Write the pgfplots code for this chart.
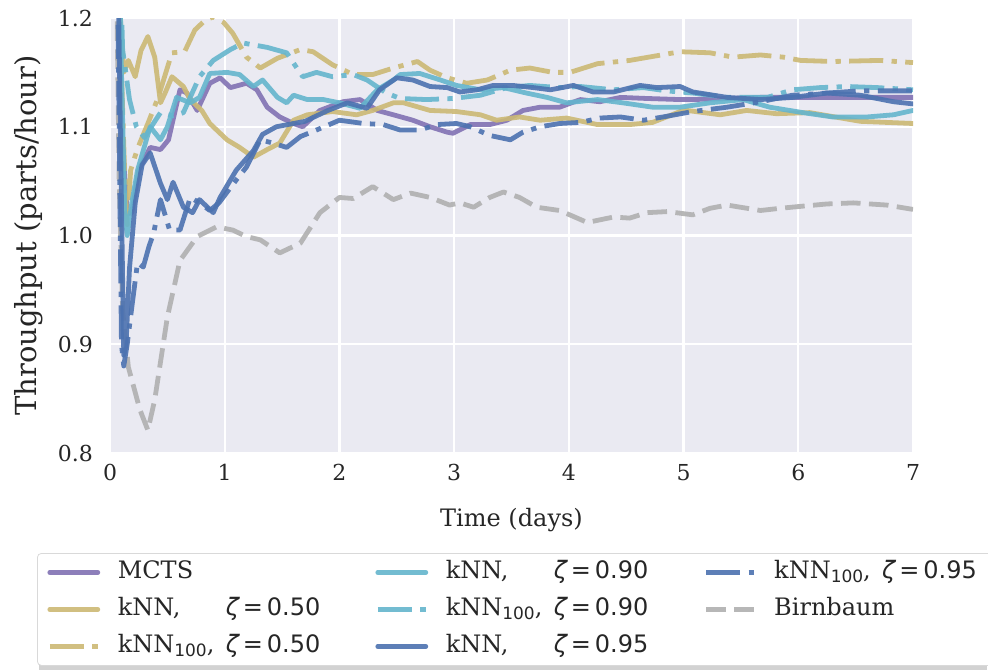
\documentclass[border=0pt]{standalone}
\usepackage{fontspec}
\setmainfont{DejaVu Serif}
\newfontfamily\dvsans{DejaVu Sans}
\usepackage{pgfplots}
\pgfplotsset{compat=1.18}

\definecolor{bgc}{HTML}{EAEAF2}
\definecolor{cpur}{HTML}{8172B3}
\definecolor{cgold}{HTML}{CCB974}
\definecolor{ccyan}{HTML}{64B5CD}
\definecolor{cblue}{HTML}{4C72B0}
\definecolor{cgray}{HTML}{B0B0B0}

\newcommand{\zt}{{\dvsans\itshape ζ}}
\newcommand{\lab}[3]{\makebox[#1][l]{\makebox[54pt][l]{#2}{\dvsans #3}}}
\newcommand{\sub}[1]{\raisebox{-0.35ex}{\dvsans\fontsize{8.5}{9}\selectfont #1}}

\pgfplotsset{
  solidl/.style={line width=2.4pt, line cap=round, line join=round, opacity=0.9},
  dashdotl/.style={line width=2.4pt, line cap=butt, line join=round, opacity=0.9,
    dash pattern=on 17pt off 4.2pt on 2.65pt off 4.2pt},
  dashedl/.style={line width=2.4pt, line cap=butt, line join=round, opacity=0.9,
    dash pattern=on 9.8pt off 4.2pt},
}

\begin{document}
\begin{tikzpicture}
\useasboundingbox (0,0) rectangle (494pt,335.5pt);
% legend shadow
\fill[gray!35] (19.5pt,0.3pt) rectangle (493.3pt,58pt);
\begin{axis}[
    at={(55pt,109pt)}, anchor=south west,
    scale only axis,
    width=401.5pt, height=217.5pt,
    xmin=0, xmax=7, ymin=0.8, ymax=1.2,
    xtick={0,1,...,7},
    ytick={0.8,0.9,1.0,1.1,1.2},
    yticklabel style={/pgf/number format/fixed, /pgf/number format/fixed zerofill,
      /pgf/number format/precision=1},
    /pgf/number format/assume math mode=true,
    ticklabel style={font=\fontsize{11}{13}\selectfont, text=black!85},
    xticklabel style={yshift=-2pt},
    yticklabel style={xshift=-5pt},
    xlabel={Time (days)},
    ylabel={Throughput (parts/hour)},
    xlabel style={font=\fontsize{12}{14}\selectfont, text=black!85,
      at={(0.5,0)}, anchor=north, yshift=-24pt},
    ylabel style={font=\fontsize{14.5}{16}\selectfont, text=black!85,
      at={(0,0.5)}, anchor=south, yshift=30pt},
    axis background/.style={fill=bgc},
    axis line style={draw=none},
    tick style={draw=none},
    grid=major,
    major grid style={white, line width=1.2pt},
    legend columns=3,
    legend cell align=left,
    legend image code/.code={%
      \path[draw=none, fill=none] (0pt,-5pt) rectangle (34pt,5pt);
      \draw[#1] (0pt,0pt) -- (24pt,0pt);},
    legend style={
      at={(-0.0909,-0.2299)}, anchor=north west,
      font=\fontsize{12}{14}\selectfont,
      text=black!85,
      draw=gray!30, fill=white, rounded corners=2pt,
      inner xsep=5pt, inner ysep=3.5pt,
      column sep=0pt, row sep=6.5pt,
      nodes={inner sep=0pt, text height=9pt, text depth=3pt},
    },
]

% --- Birnbaum ---
\addplot[dashedl, cgray, forget plot] coordinates {
(0.05,1.30) (0.08,1.05) (0.11,0.931) (0.16,0.879) (0.26,0.840) (0.33,0.821)
(0.39,0.849) (0.50,0.925) (0.61,0.977) (0.76,0.999) (0.93,1.008) (1.07,1.005)
(1.19,0.999) (1.31,0.996) (1.48,0.984) (1.66,0.993) (1.83,1.021) (2.00,1.035)
(2.12,1.034) (2.29,1.045) (2.47,1.033) (2.62,1.039) (2.79,1.035) (2.96,1.028)
(3.05,1.030) (3.17,1.026) (3.31,1.035) (3.43,1.040) (3.57,1.035) (3.72,1.026)
(3.92,1.023) (4.16,1.012) (4.39,1.017) (4.53,1.016) (4.68,1.021) (4.86,1.022)
(5.08,1.019) (5.23,1.025) (5.38,1.028) (5.67,1.023) (5.84,1.025) (6.04,1.027)
(6.25,1.029) (6.48,1.030) (6.77,1.028) (7.00,1.024)
};

% --- MCTS ---
\addplot[solidl, cpur, forget plot] coordinates {
(0.06,1.40) (0.10,1.10) (0.15,1.02) (0.19,1.021) (0.25,1.06) (0.35,1.081)
(0.44,1.079) (0.51,1.088) (0.61,1.134) (0.67,1.131) (0.76,1.115) (0.87,1.140)
(0.96,1.145) (1.05,1.136) (1.19,1.140) (1.28,1.134) (1.37,1.118) (1.48,1.109)
(1.60,1.103) (1.68,1.100) (1.83,1.115) (2.03,1.123) (2.18,1.125) (2.33,1.115)
(2.47,1.111) (2.64,1.106) (2.79,1.100) (2.94,1.095) (2.99,1.094) (3.14,1.102)
(3.31,1.102) (3.46,1.106) (3.60,1.115) (3.75,1.118) (3.92,1.118) (4.10,1.125)
(4.27,1.123) (4.45,1.127) (4.68,1.126) (4.97,1.125) (5.08,1.125) (5.67,1.127)
(6.25,1.127) (7.00,1.127)
};

% --- kNN, zeta = 0.50 ---
\addplot[solidl, cgold, forget plot] coordinates {
(0.06,1.40) (0.09,1.20) (0.12,1.15) (0.16,1.161) (0.22,1.146) (0.27,1.17)
(0.33,1.183) (0.39,1.164) (0.44,1.122) (0.48,1.131) (0.54,1.146) (0.64,1.137)
(0.70,1.125) (0.80,1.115) (0.87,1.103) (1.02,1.088) (1.13,1.081) (1.25,1.072)
(1.37,1.079) (1.48,1.085) (1.60,1.106) (1.72,1.111) (1.94,1.114) (2.15,1.111)
(2.29,1.115) (2.47,1.122) (2.56,1.122) (2.79,1.115) (3.02,1.114) (3.23,1.111)
(3.37,1.106) (3.57,1.109) (3.75,1.106) (3.98,1.108) (4.25,1.102) (4.53,1.102)
(4.73,1.104) (4.97,1.114) (5.03,1.115) (5.32,1.111) (5.55,1.115) (5.81,1.112)
(6.10,1.113) (6.54,1.105) (7.00,1.103)
};

% --- kNN100, zeta = 0.50 ---
\addplot[dashdotl, cgold, forget plot] coordinates {
(0.06,1.40) (0.10,1.15) (0.13,1.05) (0.15,1.01) (0.18,1.06) (0.24,1.08)
(0.33,1.103) (0.42,1.127) (0.54,1.168) (0.65,1.169) (0.74,1.189) (0.83,1.198)
(0.90,1.201) (0.99,1.196) (1.07,1.186) (1.19,1.164) (1.31,1.154) (1.46,1.163)
(1.66,1.171) (1.77,1.169) (1.94,1.157) (2.12,1.148) (2.29,1.148) (2.47,1.154)
(2.68,1.160) (2.79,1.152) (2.94,1.145) (3.11,1.140) (3.29,1.143) (3.49,1.152)
(3.66,1.154) (3.86,1.150) (4.01,1.150) (4.25,1.158) (4.53,1.161) (4.97,1.169)
(5.23,1.168) (5.43,1.164) (5.67,1.166) (5.87,1.164) (6.02,1.161) (6.30,1.160)
(6.71,1.161) (7.00,1.159)
};

% --- kNN, zeta = 0.90 ---
\addplot[solidl, ccyan, forget plot] coordinates {
(0.06,1.40) (0.10,1.15) (0.13,1.02) (0.15,1.00) (0.19,1.03) (0.24,1.06)
(0.35,1.100) (0.44,1.088) (0.50,1.10) (0.58,1.127) (0.70,1.122) (0.78,1.127)
(0.87,1.149) (1.02,1.150) (1.13,1.148) (1.25,1.137) (1.33,1.143) (1.46,1.127)
(1.54,1.122) (1.60,1.129) (1.72,1.125) (1.86,1.125) (2.00,1.122) (2.18,1.117)
(2.33,1.134) (2.47,1.143) (2.53,1.148) (2.70,1.149) (2.88,1.143) (3.02,1.138)
(3.23,1.134) (3.43,1.136) (3.63,1.131) (3.81,1.127) (3.98,1.122) (4.25,1.125)
(4.47,1.122) (4.73,1.118) (4.97,1.118) (5.23,1.122) (5.52,1.125) (5.75,1.118)
(6.04,1.113) (6.30,1.109) (6.60,1.109) (6.83,1.111) (7.00,1.115)
};

% --- kNN100, zeta = 0.90 ---
\addplot[dashdotl, ccyan, forget plot] coordinates {
(0.06,1.40) (0.09,1.25) (0.11,1.171) (0.17,1.125) (0.23,1.100) (0.30,1.09)
(0.36,1.10) (0.44,1.113) (0.55,1.11) (0.64,1.113) (0.78,1.146) (0.90,1.161)
(1.05,1.171) (1.16,1.177) (1.37,1.173) (1.54,1.168) (1.68,1.146) (1.80,1.150)
(1.94,1.146) (2.12,1.148) (2.24,1.143) (2.41,1.131) (2.53,1.126) (2.76,1.125)
(2.99,1.126) (3.23,1.129) (3.46,1.136) (3.66,1.138) (3.92,1.136) (4.10,1.137)
(4.39,1.134) (4.65,1.136) (4.85,1.133) (5.08,1.131) (5.38,1.127) (5.73,1.127)
(5.95,1.134) (6.19,1.136) (6.43,1.137) (6.69,1.136) (7.00,1.134)
};

% --- kNN, zeta = 0.95 ---
\addplot[solidl, cblue, forget plot] coordinates {
(0.05,1.40) (0.09,1.10) (0.12,0.89) (0.14,0.90) (0.17,0.97) (0.22,1.03)
(0.28,1.065) (0.35,1.076) (0.44,1.048) (0.50,1.033) (0.55,1.049) (0.64,1.026)
(0.72,1.021) (0.78,1.033) (0.90,1.021) (0.96,1.035) (1.10,1.060) (1.25,1.078)
(1.33,1.093) (1.45,1.100) (1.60,1.103) (1.70,1.105) (1.90,1.115) (2.07,1.122)
(2.24,1.117) (2.35,1.134) (2.50,1.145) (2.64,1.143) (2.79,1.137) (2.94,1.136)
(3.05,1.132) (3.20,1.134) (3.34,1.138) (3.51,1.138) (3.69,1.136) (3.84,1.134)
(4.04,1.138) (4.21,1.132) (4.39,1.132) (4.62,1.138) (4.77,1.136) (4.97,1.137)
(5.08,1.132) (5.38,1.127) (5.67,1.125) (5.95,1.127) (6.25,1.131) (6.54,1.129)
(6.83,1.123) (7.00,1.121)
};

% --- kNN100, zeta = 0.95 ---
\addplot[dashdotl, cblue, forget plot] coordinates {
(0.05,1.40) (0.08,1.10) (0.10,0.90) (0.12,0.88) (0.15,0.90) (0.19,0.934)
(0.24,0.975) (0.29,0.971) (0.34,0.99) (0.38,1.002) (0.44,1.033) (0.52,1.005)
(0.61,1.005) (0.70,1.035) (0.78,1.030) (0.87,1.023) (0.95,1.03) (1.10,1.051)
(1.19,1.063) (1.31,1.088) (1.42,1.085) (1.54,1.081) (1.66,1.091) (1.80,1.097)
(2.00,1.106) (2.21,1.103) (2.38,1.102) (2.53,1.097) (2.70,1.097) (2.85,1.102)
(3.02,1.103) (3.14,1.100) (3.31,1.092) (3.49,1.088) (3.60,1.095) (3.75,1.100)
(3.92,1.103) (4.10,1.104) (4.27,1.108) (4.45,1.109) (4.65,1.106) (4.82,1.109)
(5.08,1.114) (5.38,1.118) (5.67,1.123) (5.95,1.129) (6.25,1.131) (6.54,1.133)
(6.83,1.133) (7.00,1.133)
};

% --- legend (row-wise order of the column-major original) ---
\addlegendimage{solidl, cpur}
\addlegendentry{\lab{128.8pt}{MCTS}{}}
\addlegendimage{solidl, ccyan}
\addlegendentry{\lab{129pt}{kNN,}{\zt\,=\,0.90}}
\addlegendimage{dashdotl, cblue}
\addlegendentry{\lab{104pt}{kNN\sub{100},}{\zt\,=\,0.95}}
\addlegendimage{solidl, cgold}
\addlegendentry{\lab{128.8pt}{kNN,}{\zt\,=\,0.50}}
\addlegendimage{dashdotl, ccyan}
\addlegendentry{\lab{129pt}{kNN\sub{100},}{\zt\,=\,0.90}}
\addlegendimage{dashedl, cgray}
\addlegendentry{\lab{104pt}{Birnbaum}{}}
\addlegendimage{dashdotl, cgold}
\addlegendentry{\lab{128.8pt}{kNN\sub{100},}{\zt\,=\,0.50}}
\addlegendimage{solidl, cblue}
\addlegendentry{\lab{129pt}{kNN,}{\zt\,=\,0.95}}

\end{axis}
\end{tikzpicture}
\end{document}
